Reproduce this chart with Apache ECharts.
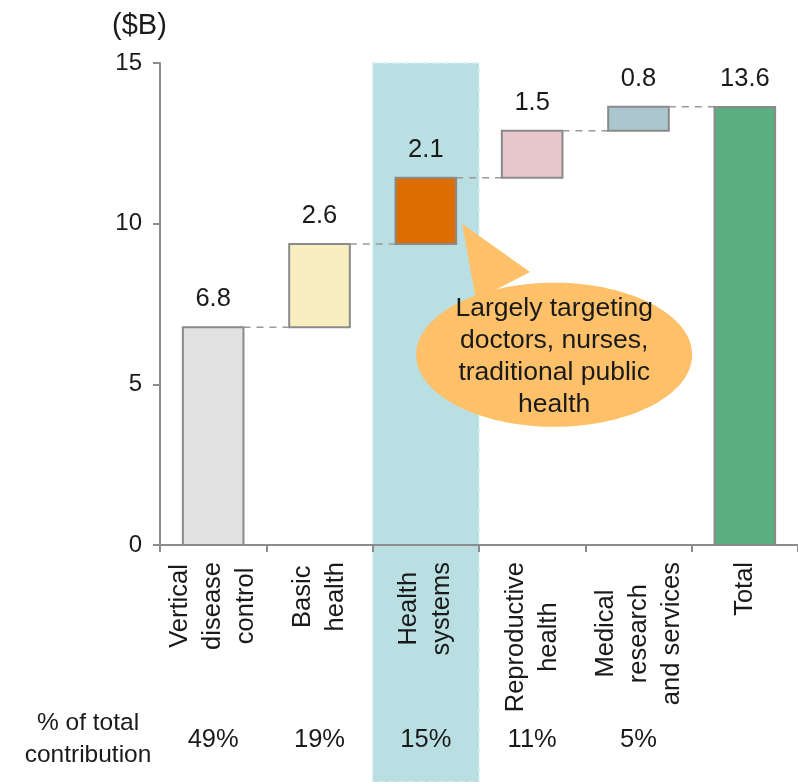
<!DOCTYPE html>
<html>
<head>
<meta charset="utf-8">
<script src="https://cdn.jsdelivr.net/npm/echarts@6/dist/echarts.min.js"></script>
<style>html,body{margin:0;padding:0;background:#fff;}#c{width:798px;height:782px;}</style>
</head>
<body>
<div id="c"></div>
<script>
const categories = ['Vertical\ndisease\ncontrol', 'Basic\nhealth', 'Health\nsystems', 'Reproductive\nhealth', 'Medical\nresearch\nand services', 'Total'];
const increments = [6.78, 2.59, 2.06, 1.46, 0.75];
const totalValue = 13.63;
const valueLabels = ['6.8', '2.6', '2.1', '1.5', '0.8', '13.6'];
const shares = ['49%', '19%', '15%', '11%', '5%', ''];
const yTicks = [0, 5, 10, 15];
const colors = ['#e1e1e1', '#f8eebf', '#dc6d00', '#e8c8ca', '#abc6cf', '#5aae82'];

const FONT = '"Liberation Sans", Arial, sans-serif';
const TXT = '#1a1a1a';
const LBL = 25.5;

// build waterfall segments
const segs = [];
let cum = 0;
increments.forEach((v, i) => { segs.push([i, cum, cum + v]); cum += v; });
segs.push([increments.length, 0, totalValue]);

const chart = echarts.init(document.getElementById('c'));

const option = {
  animation: false,
  grid: { left: 160, width: 642, top: 63, bottom: 237, containLabel: false },
  xAxis: [{
    type: 'category', data: categories, boundaryGap: true,
    axisLine: { show: true, lineStyle: { color: '#8c8c8c', width: 2 } },
    axisTick: { show: true, interval: 0, length: 7, lineStyle: { color: '#8c8c8c', width: 2 } },
    axisLabel: { show: false },
    splitLine: { show: false }
  }, {
    type: 'category', data: shares, position: 'bottom', boundaryGap: true,
    axisLine: { show: false }, axisTick: { show: false },
    axisLabel: { interval: 0, margin: 182, color: TXT, fontFamily: FONT, fontSize: LBL }
  }],
  yAxis: {
    type: 'value', min: yTicks[0], max: yTicks[yTicks.length - 1], interval: 5,
    axisLine: { show: true, lineStyle: { color: '#8c8c8c', width: 2 } },
    axisTick: { show: true, length: 7, lineStyle: { color: '#8c8c8c', width: 2 } },
    axisLabel: { margin: 18, color: TXT, fontFamily: FONT, fontSize: 24 },
    splitLine: { show: false }
  },
  series: [{
    type: 'custom',
    data: segs,
    z: 5,
    renderItem: function (params, api) {
      const i = api.value(0), lo = api.value(1), hi = api.value(2);
      const p0 = api.coord([i, lo]);
      const p1 = api.coord([i, hi]);
      const cw = api.size([1, 0])[0];
      const bw = cw * 0.57;
      const x = p0[0] - bw / 2;
      const children = [{
        type: 'rect',
        shape: { x: x, y: p1[1], width: bw, height: p0[1] - p1[1] },
        style: { fill: colors[i], stroke: '#8a8a8a', lineWidth: 2 },
        textContent: { style: { text: valueLabels[i], fill: TXT, fontFamily: FONT, fontSize: LBL } },
        textConfig: { position: 'top', distance: 14 }
      }];
      if (i < segs.length - 1) {
        children.push({
          type: 'line',
          shape: { x1: x + bw, y1: p1[1], x2: x + cw, y2: p1[1] },
          style: { stroke: '#9a9a9a', lineWidth: 1.5, lineDash: [7, 6] }
        });
      }
      return { type: 'group', children: children };
    }
  }]
};
chart.setOption(option);

// decorations positioned via the chart's own scales
const cx2 = chart.convertToPixel({ xAxisIndex: 0 }, 2);
const cx3 = chart.convertToPixel({ xAxisIndex: 0 }, 3);
const cw = cx3 - cx2;
const yTop = chart.convertToPixel({ yAxisIndex: 0 }, 15);
const yZero = chart.convertToPixel({ yAxisIndex: 0 }, 0);
const bw = cw * 0.57;
const tip = [cx2 + bw / 2 + 6, chart.convertToPixel({ yAxisIndex: 0 }, 10.0)];
const ex = cx3 + 22, ey = chart.convertToPixel({ yAxisIndex: 0 }, 5.92);

// rotated category labels: lines centred on each other, block ending near the axis
const mctx = document.createElement('canvas').getContext('2d');
mctx.font = LBL + 'px ' + FONT;
const catLabels = categories.map((c, i) => {
  const w = Math.max.apply(null, c.split('\n').map(s => mctx.measureText(s).width));
  return {
    type: 'text', z: 10,
    x: chart.convertToPixel({ xAxisIndex: 0 }, i),
    y: yZero + 17 + w / 2,
    rotation: Math.PI / 2,
    style: { text: c, fill: TXT, fontFamily: FONT, fontSize: LBL, lineHeight: 33, align: 'center', verticalAlign: 'middle' }
  };
});

chart.setOption({
  graphic: [
    { type: 'rect', z: -10, shape: { x: cx2 - cw / 2, y: yTop, width: cw, height: 782 - yTop },
      style: { fill: '#b9dfe3', stroke: '#d8eff1', lineWidth: 1.5, lineDash: [6, 4] } },
    { type: 'text', left: 112, top: 11,
      style: { text: '($B)', fill: TXT, font: '29px ' + FONT } },
    { type: 'text', z: 10, x: 88, y: 739,
      style: { text: '% of total\ncontribution', fill: TXT, fontFamily: FONT, fontSize: 24.5, lineHeight: 32, align: 'center', verticalAlign: 'middle' } },
    { type: 'polygon', z: 20, shape: { points: [tip, [476, 300], [530, 272]] }, style: { fill: '#fec068' } },
    { type: 'ellipse', z: 20, shape: { cx: ex, cy: ey, rx: 138, ry: 72 }, style: { fill: '#fec068' } },
    { type: 'text', z: 21, x: ex, y: ey + 2,
      style: { text: 'Largely targeting\ndoctors, nurses,\ntraditional public\nhealth', fill: TXT, fontFamily: FONT, fontSize: 26.5, lineHeight: 32, align: 'center', verticalAlign: 'middle' } }
  ].concat(catLabels)
});
</script>
</body>
</html>
